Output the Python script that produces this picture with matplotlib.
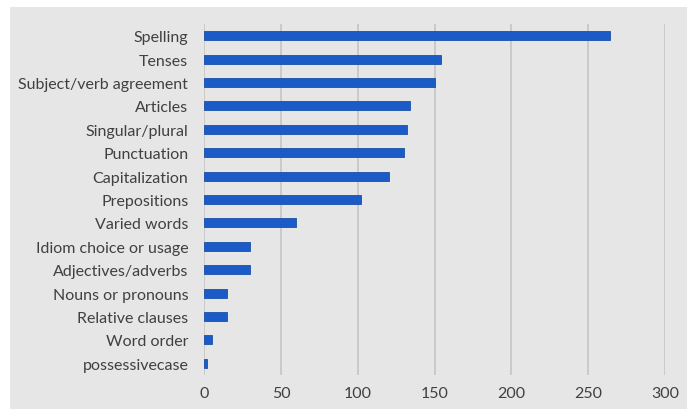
import matplotlib
matplotlib.use("Agg")
import matplotlib.pyplot as plt
from matplotlib.patches import Rectangle

categories = ["Spelling", "Tenses", "Subject/verb agreement", "Articles",
              "Singular/plural", "Punctuation", "Capitalization", "Prepositions",
              "Varied words", "Idiom choice or usage", "Adjectives/adverbs",
              "Nouns or pronouns", "Relative clauses", "Word order", "possessivecase"]
values = [264, 154, 150, 134, 132, 130, 120, 102, 60, 30, 30, 15, 15, 5, 2]
xticks = [0, 50, 100, 150, 200, 250, 300]

W, H = 687, 410
fig = plt.figure(figsize=(W / 100, H / 100), dpi=100, facecolor="white")
fig.patches.append(Rectangle((10 / W, 0), 1, (H - 8) / H, transform=fig.transFigure,
                             facecolor="#e6e6e6", edgecolor="none", zorder=-10))

ax = fig.add_axes([204.3 / W, 1 - 376 / H, (665 - 204.3) / W, (376 - 25) / H])
ax.set_facecolor("none")

ypos = list(range(len(categories)))
ax.barh(ypos, values, height=0.38, color="#1b5bc8", edgecolor="#1a4fa8", linewidth=0.6, zorder=3)
ax.set_ylim(len(categories) - 0.5, -0.5)
ax.set_xlim(0, 300)
ax.set_xticks(xticks)
ax.set_yticks(ypos)
ax.set_yticklabels(categories)

fam = ["Lato", "DejaVu Sans"]
for lbl in ax.get_yticklabels() + ax.get_xticklabels():
    lbl.set_family(fam)
    lbl.set_fontsize(11.5)
    lbl.set_color("#404040")

ax.grid(axis="x", color="#c8c8c8", linewidth=1.3, zorder=0)
ax.tick_params(axis="both", length=0)
ax.tick_params(axis="y", pad=11.5)
ax.tick_params(axis="x", pad=8)
for s in ax.spines.values():
    s.set_visible(False)

fig.savefig("out.png", dpi=100, facecolor="white")
